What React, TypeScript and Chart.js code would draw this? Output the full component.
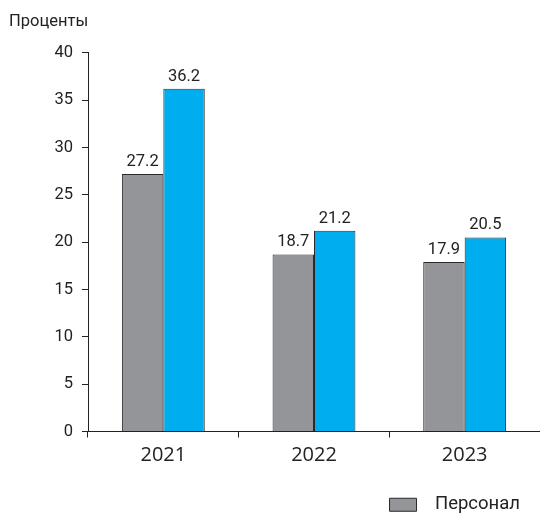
import React, { useEffect, useRef } from "react";
import { Chart, registerables } from "chart.js";

Chart.register(...registerables);

const categories = ["2021", "2022", "2023"];
const staffValues = [27.2, 18.7, 17.9];
const otherValues = [36.2, 21.2, 20.5];
const staffLabel = "Персонал";
const otherLabel = "Всего";
const yTitle = "Проценты";

const valueLabels = {
  id: "valueLabels",
  afterDatasetsDraw(chart: any) {
    const ctx = chart.ctx;
    ctx.save();
    ctx.font = "16.5px Roboto";
    ctx.fillStyle = "#222";
    ctx.textAlign = "center";
    ctx.textBaseline = "alphabetic";
    chart.data.datasets.forEach((ds: any, di: number) => {
      const meta = chart.getDatasetMeta(di);
      meta.data.forEach((bar: any, i: number) => {
        ctx.fillText(ds.data[i].toFixed(1), bar.x, bar.y - 8);
      });
    });
    ctx.restore();
  },
};

const legendShift = {
  id: "legendShift",
  afterLayout(chart: any) {
    const lg = chart.legend;
    if (lg) {
      lg.left -= 16;
      lg.right -= 16;
      lg.top += 8;
      lg.bottom += 8;
    }
  },
};

export default function App() {
  const ref = useRef<HTMLCanvasElement>(null);
  useEffect(() => {
    document.body.style.margin = "0";
    const chart = new Chart(ref.current!, {
      type: "bar",
      data: {
        labels: categories,
        datasets: [
          {
            label: staffLabel,
            data: staffValues,
            backgroundColor: "#939598",
            borderColor: "#2a2a2a",
            borderWidth: 1,
          },
          {
            label: otherLabel,
            data: otherValues,
            backgroundColor: "#00AEEF",
            borderColor: "#2a2a2a",
            borderWidth: 1,
          },
        ],
      },
      options: {
        animation: false,
        responsive: false,
        layout: { padding: { left: 9, right: 0, top: 0, bottom: 0 } },
        datasets: { bar: { categoryPercentage: 0.55, barPercentage: 1 } },
        plugins: {
          title: {
            display: true,
            text: yTitle,
            align: "start",
            color: "#222",
            font: { family: "Roboto", size: 16.5, weight: "normal" },
            padding: { top: 12, bottom: 21 },
          },
          legend: {
            position: "bottom",
            align: "end",
            labels: {
              filter: (item: any) => item.datasetIndex === 0,
              generateLabels: (ch: any) =>
                Chart.defaults.plugins.legend.labels
                  .generateLabels(ch)
                  .map((it: any) => ({ ...it, text: "  " + it.text })),
              boxWidth: 27,
              boxHeight: 13,
              color: "#222",
              font: { family: "Roboto", size: 18.5 },
              padding: 4,
            },
          },
          tooltip: { enabled: false },
        },
        scales: {
          x: {
            offset: true,
            grid: {
              offset: true,
              drawOnChartArea: false,
              drawTicks: true,
              tickLength: 6,
              color: "#222",
            },
            border: { color: "#222", width: 1 },
            ticks: {
              color: "#222",
              font: { family: "Open Sans", size: 20 },
              padding: 6,
            },
            afterFit: (s: any) => {
              s.height = 52;
            },
          },
          y: {
            min: 0,
            max: 40,
            grid: {
              drawOnChartArea: false,
              tickLength: 6,
              color: "#222",
            },
            border: { color: "#222", width: 1 },
            ticks: {
              stepSize: 5,
              color: "#222",
              font: { family: "Roboto", size: 16.5 },
              padding: 9,
            },
            afterFit: (s: any) => {
              s.width = 79;
            },
          },
        },
      },
      plugins: [valueLabels, legendShift],
    });
    return () => chart.destroy();
  }, []);
  return (
    <div style={{ position: "absolute", left: 0, top: 0 }}>
      <canvas ref={ref} width={540} height={516} />
    </div>
  );
}
